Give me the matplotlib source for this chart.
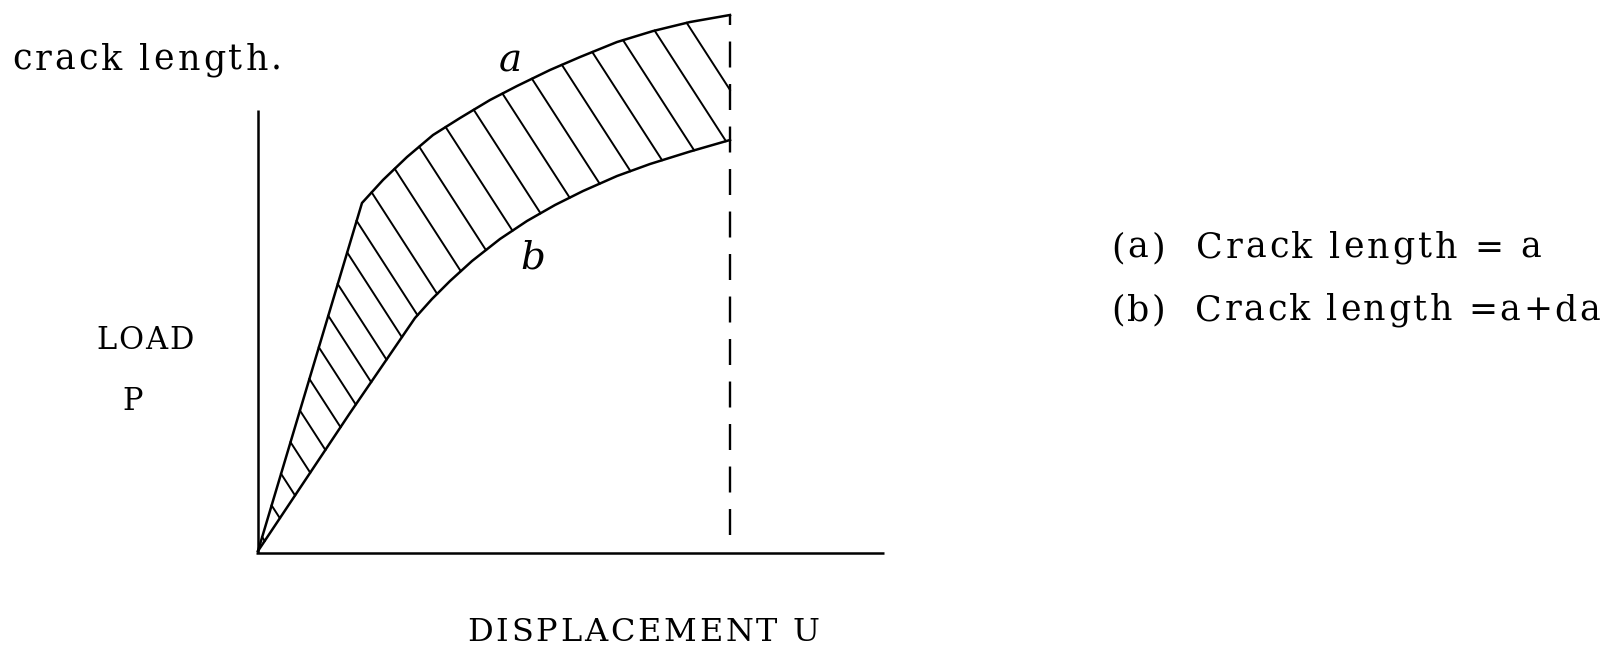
import numpy as np
import matplotlib
matplotlib.use("Agg")
import matplotlib.pyplot as plt
from matplotlib.font_manager import FontProperties

# ---- data (normalised: U = displacement, P = load) ----
curve_a_u = [0.0, 0.2203, 0.2648, 0.3157, 0.3708, 0.4280, 0.4915, 0.5487,
             0.6186, 0.6822, 0.7606, 0.8369, 0.9153, 1.0]
curve_a_p = [0.0, 0.6493, 0.6922, 0.7351, 0.7761, 0.8078, 0.8414, 0.8675,
             0.8974, 0.9216, 0.9496, 0.9701, 0.9869, 1.0]
curve_b_u = [0.0, 0.1949, 0.3326, 0.3686, 0.4068, 0.4534, 0.5127, 0.5699,
             0.6292, 0.6886, 0.7606, 0.8305, 0.9153, 1.0]
curve_b_p = [0.0, 0.2575, 0.4347, 0.4701, 0.5037, 0.5410, 0.5821, 0.6157,
             0.6455, 0.6716, 0.6996, 0.7220, 0.7453, 0.7668]
u_limit = 1.0          # dashed line position
u_axis_end = 1.326     # x-axis extent
p_axis_end = 0.823     # y-axis extent

label_a = "a"
label_b = "b"
xlabel = "DISPLACEMENT U"
ylabel_1 = "LOAD"
ylabel_2 = "P"
top_text = "crack length."
legend_a = "(a)  Crack length = a"
legend_b = "(b)  Crack length =a+da"

W, H = 1608, 652
fig = plt.figure(figsize=(W / 100, H / 100), dpi=100)
ax = fig.add_axes([0, 0, 1, 1])
ox, oy, sx, sy = 258, 551, 472, 536   # layout of the drawing in pixels
ax.set_xlim(-ox / sx, (W - ox) / sx)
ax.set_ylim((oy - H) / sy, oy / sy)
ax.axis("off")

lw_main = 1.8
ax.plot([0, 0], [-0.004, p_axis_end], color="black", lw=lw_main, solid_capstyle="butt")
ax.plot([-0.004, u_axis_end], [-0.004, -0.004], color="black", lw=lw_main,
        solid_capstyle="butt")
ax.plot(curve_a_u, curve_a_p, color="black", lw=lw_main, solid_joinstyle="round")
ax.plot(curve_b_u, curve_b_p, color="black", lw=lw_main, solid_joinstyle="round")
ax.plot([u_limit, u_limit], [0.03, 1.0], color="black", lw=1.7, dashes=(11, 7))

# ---- hatching between the curves (computed in display space) ----
fig.canvas.draw()
T = ax.transData
A = T.transform(np.column_stack([curve_a_u, curve_a_p]))
B = T.transform(np.column_stack([curve_b_u, curve_b_p]))
xd = T.transform([[u_limit, 0]])[0, 0]
seg = np.diff(A, axis=0)
seglen = np.hypot(seg[:, 0], seg[:, 1])
cum = np.concatenate([[0], np.cumsum(seglen)])
L = cum[-1]
d = np.array([0.542, -0.840])
spacing = 33.0
s = L - 44.0
starts = []
while s > 8:
    i = np.searchsorted(cum, s) - 1
    i = max(0, min(i, len(seglen) - 1))
    f = (s - cum[i]) / seglen[i]
    starts.append(A[i] + f * seg[i])
    s -= spacing


def ray_hit(p):
    best = np.inf
    for j in range(len(B) - 1):
        q, r = B[j], B[j + 1] - B[j]
        M = np.array([[d[0], -r[0]], [d[1], -r[1]]])
        if abs(np.linalg.det(M)) < 1e-9:
            continue
        t, v = np.linalg.solve(M, q - p)
        if t > 0 and -1e-6 <= v <= 1 + 1e-6:
            best = min(best, t)
    t = (xd - p[0]) / d[0]
    if t > 0:
        best = min(best, t)
    return best


inv = T.inverted()
for p in starts:
    t = ray_hit(p)
    if np.isfinite(t):
        pts = inv.transform(np.array([p, p + t * d]))
        ax.plot(pts[:, 0], pts[:, 1], color="black", lw=1.4)

# ---- texts ----
renderer = fig.canvas.get_renderer()


def text_w(s, prop):
    w, h, dsc = renderer.get_text_width_height_descent(s, prop, ismath=False)
    return w


def tracked(x0, x1, y, s, prop):
    """Place string s between pixel x0 and x1 on baseline y, with letter spacing."""
    if len(s) < 2:
        fig.text(x0 / W, 1 - y / H, s, fontproperties=prop, ha="left", va="baseline")
        return
    ref = text_w("I", prop)
    pos = [0.0] + [text_w(s[:i] + "I", prop) - ref for i in range(1, len(s))]
    natural = text_w(s, prop)
    track = max(0.0, (x1 - x0 - natural) / (len(s) - 1))
    for i, ch in enumerate(s):
        if ch == " ":
            continue
        fig.text((x0 + pos[i] + i * track) / W, 1 - y / H, ch,
                 fontproperties=prop, ha="left", va="baseline")


serif = "DejaVu Serif"
ax.text(0.535, 0.915, label_a, fontsize=28, style="italic", family=serif,
        ha="center", va="center")
ax.text(0.582, 0.546, label_b, fontsize=28, style="italic", family=serif,
        ha="center", va="center")

tracked(12, 282, 70, top_text, FontProperties(family=serif, size=25))
tracked(96, 194, 349, ylabel_1, FontProperties(family=serif, size=22))
tracked(122, 145, 410, ylabel_2, FontProperties(family=serif, size=22))
tracked(467, 820, 641, xlabel, FontProperties(family=serif, size=23))
tracked(1111, 1541, 258, legend_a, FontProperties(family=serif, size=25))
tracked(1111, 1600, 320, legend_b, FontProperties(family=serif, size=25))

fig.savefig("out.png", dpi=100)
